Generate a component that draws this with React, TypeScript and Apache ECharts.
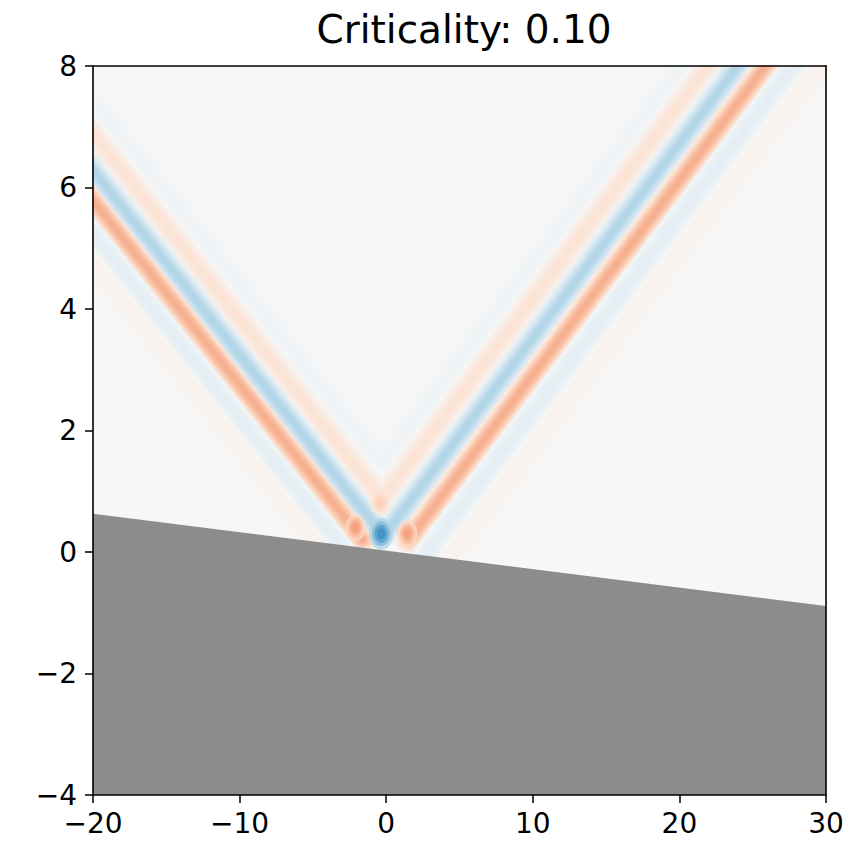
import React, { useEffect, useRef } from 'react';
import * as echarts from 'echarts';

// ---- texts & axes ----
const titleText = 'Criticality: 0.10';
const xMin = -20;
const xMax = 30;
const xStep = 10;
const yMin = -4;
const yMax = 8;
const yStep = 2;

// ---- surface (grey half-plane boundary) ----
const surfaceX = [-20, 30];
const surfaceY = [0.63, -0.89];

// ---- wave fronts: start (near source) and end (beyond the frame), signed amplitude (+ blue, - red) ----
const stripeNames = [
  'L inner faint blue', 'L faint red', 'L blue', 'L red', 'L faint blue', 'L outer faint red',
  'R inner faint blue', 'R faint red', 'R blue', 'R red', 'R faint blue', 'R outer faint red',
];
const stripeStartX = [-0.4, -0.4, -0.4, -1.6, -3.1, -4.5, -0.2, -0.2, 0.05, 1.54, 2.8, 4.6];
const stripeStartY = [1.5, 0.9, 0.33, 0.2, 0.1, 0.05, 1.5, 0.9, 0.33, 0.2, 0.0, -0.05];
const stripeEndX = [-21, -21, -21, -21, -21, -21, 21.64, 23.5, 25.54, 27.44, 29.34, 31.24];
const stripeEndY = [7.75, 7.2, 6.59, 6.09, 5.55, 5.05, 8.5, 8.5, 8.5, 8.5, 8.5, 8.5];
const stripeAmp = [0.04, -0.14, 0.3, -0.36, 0.1, -0.04, 0.04, -0.14, 0.3, -0.36, 0.1, -0.04];

// ---- localized blobs near the source ----
const blobX = [-0.35, -2.1, 1.45, -0.4];
const blobY = [0.3, 0.4, 0.3, 0.82];
const blobAmp = [0.62, -0.42, -0.42, -0.24];

// RdBu colormap
const RDBU = ['#67001f', '#b2182b', '#d6604d', '#f4a582', '#fddbc7', '#f7f7f7', '#d1e5f0', '#92c5de', '#4393c3', '#2166ac', '#053061'];
function hexToRgb(h: string) {
  return [parseInt(h.slice(1, 3), 16), parseInt(h.slice(3, 5), 16), parseInt(h.slice(5, 7), 16)];
}
function rdbu(v: number) {
  const t = Math.max(0, Math.min(1, (v + 1) / 2)) * (RDBU.length - 1);
  const i = Math.min(RDBU.length - 2, Math.floor(t));
  const f = t - i;
  const a = hexToRgb(RDBU[i]);
  const b = hexToRgb(RDBU[i + 1]);
  const c = a.map((av, k) => Math.round(av + (b[k] - av) * f));
  return `rgb(${c[0]},${c[1]},${c[2]})`;
}

const fmt = (v: number) => String(v).replace('-', '\u2212');

export default function App() {
  const ref = useRef<HTMLDivElement>(null);
  useEffect(() => {
    if (!ref.current) return;
    const chart = echarts.init(ref.current, undefined, { renderer: 'svg' });

    const GL = 93, GT = 66, GW = 733, GH = 729;
    const layerWidths = [26, 20, 15, 10, 5];
    const layerFactors = [0.25, 0.5, 0.72, 0.9, 1.0];
    const series: any[] = [];
    layerWidths.forEach((w, li) => {
      stripeNames.forEach((name, si) => {
        series.push({
          type: 'line',
          name: name + ' ' + li,
          data: [
            [stripeStartX[si], stripeStartY[si]],
            [stripeEndX[si], stripeEndY[si]],
          ],
          symbol: 'none',
          silent: true,
          clip: true,
          z: 2 + li,
          lineStyle: { width: w, color: rdbu(stripeAmp[si] * layerFactors[li]), cap: 'round' },
        });
      });
    });
    const blobSizes = [[24, 32], [18, 25], [13, 18], [8, 11]];
    const blobFactors = [0.5, 0.72, 0.9, 1.0];
    blobSizes.forEach((s, li) => {
      series.push({
        type: 'scatter',
        data: blobX.map((x, i) => ({
          value: [x, blobY[i]],
          itemStyle: { color: rdbu(blobAmp[i] * blobFactors[li]) },
        })),
        symbol: 'circle',
        symbolSize: (val: any, p: any) => {
          const k = p.dataIndex === 0 ? 1 : 0.85;
          return [s[0] * k, s[1] * k];
        },
        silent: true,
        z: 8 + li,
      });
    });
    series.push({
      type: 'line',
      name: 'surface',
      data: surfaceX.map((x, i) => [x, surfaceY[i]]),
      symbol: 'none',
      silent: true,
      z: 20,
      lineStyle: { width: 0, color: '#8c8c8c' },
      areaStyle: { color: '#8c8c8c', opacity: 1, origin: 'start' },
    });

    const axisLine = { show: true, onZero: false, lineStyle: { color: '#000', width: 1.6 } };
    const labelStyle = { color: '#000', fontFamily: 'DejaVu Sans', fontSize: 28, margin: 14, formatter: fmt };
    const mask = { fill: '#ffffff' };

    chart.setOption({
      animation: false,
      backgroundColor: '#ffffff',
      title: {
        text: titleText,
        left: 459,
        top: 5,
        z: 80,
        textAlign: 'center',
        textStyle: { fontFamily: 'DejaVu Sans', fontSize: 39, fontWeight: 'normal', color: '#000' },
      },
      graphic: [
        { type: 'rect', z: 50, silent: true, shape: { x: 0, y: 0, width: 858, height: GT - 0.8 }, style: mask },
        { type: 'rect', z: 50, silent: true, shape: { x: 0, y: 0, width: GL - 0.8, height: 857 }, style: mask },
        { type: 'rect', z: 50, silent: true, shape: { x: GL + GW + 0.8, y: 0, width: 60, height: 857 }, style: mask },
        { type: 'rect', z: 50, silent: true, shape: { x: 0, y: GT + GH + 0.8, width: 858, height: 80 }, style: mask },
      ],
      grid: { left: GL, top: GT, width: GW, height: GH, show: true, backgroundColor: '#f7f7f7', borderWidth: 0 },
      xAxis: [
        {
          type: 'value', min: xMin, max: xMax, interval: xStep, position: 'bottom', z: 60,
          axisLine, axisTick: { show: true, length: 8, lineStyle: { color: '#000', width: 1.5 } },
          axisLabel: labelStyle, splitLine: { show: false },
        },
        {
          type: 'value', min: xMin, max: xMax, interval: xStep, position: 'top', z: 60,
          axisLine, axisTick: { show: false }, axisLabel: { show: false }, splitLine: { show: false },
        },
      ],
      yAxis: [
        {
          type: 'value', min: yMin, max: yMax, interval: yStep, position: 'left', z: 60,
          axisLine, axisTick: { show: true, length: 8, lineStyle: { color: '#000', width: 1.5 } },
          axisLabel: { ...labelStyle, margin: 16 }, splitLine: { show: false },
        },
        {
          type: 'value', min: yMin, max: yMax, interval: yStep, position: 'right', z: 60,
          axisLine, axisTick: { show: false }, axisLabel: { show: false }, splitLine: { show: false },
        },
      ],
      series,
    });
    return () => chart.dispose();
  }, []);
  return <div ref={ref} style={{ position: 'absolute', left: 0, top: 0, width: 858, height: 857 }} />;
}
